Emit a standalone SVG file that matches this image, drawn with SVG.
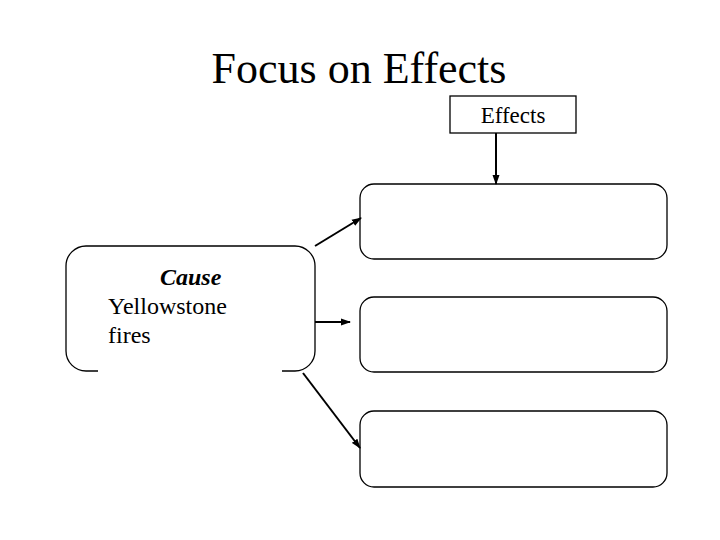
<svg xmlns="http://www.w3.org/2000/svg" width="720" height="540" viewBox="0 0 720 540">
<style>
text{font-family:"Liberation Serif","Times New Roman",serif;fill:#000}
.box{fill:#fff;stroke:#000;stroke-width:1.3}
.conn{stroke:#000;stroke-width:2;fill:none}
</style>
<defs>
<marker id="ah" markerWidth="10" markerHeight="8" refX="9" refY="4" orient="auto" markerUnits="userSpaceOnUse">
<path d="M0,0.5 L10,4 L0,7.5 Z" fill="#000"/>
</marker>
</defs>
<rect width="720" height="540" fill="#fff"/>
<text x="359" y="83" font-size="44" text-anchor="middle">Focus on Effects</text>
<g id="effects-label">
<rect class="box" x="450" y="96" width="126" height="37"/>
<text x="513" y="123" font-size="23" text-anchor="middle">Effects</text>
</g>
<g id="cause">
<path class="box" d="M98,371 L86,371 A20,20 0 0 1 66,351 L66,266 A20,20 0 0 1 86,246 L295,246 A20,20 0 0 1 315,266 L315,351 A20,20 0 0 1 295,371 L282,371" fill="none"/>
<text font-size="24"><tspan x="160" y="285" font-weight="bold" font-style="italic">Cause</tspan><tspan x="108" y="314">Yellowstone</tspan><tspan x="108" y="343">fires</tspan></text>
</g>
<g id="effect1"><rect class="box" x="360" y="184" width="307" height="75" rx="14"/></g>
<g id="effect2"><rect class="box" x="360" y="297" width="307" height="75" rx="14"/></g>
<g id="effect3"><rect class="box" x="360" y="411" width="307" height="76" rx="14"/></g>
<g id="connectors">
<line class="conn" x1="496" y1="133" x2="496" y2="184" marker-end="url(#ah)"/>
<line class="conn" x1="315" y1="246" x2="361" y2="218" marker-end="url(#ah)"/>
<line class="conn" x1="315" y1="322" x2="350" y2="322" marker-end="url(#ah)"/>
<line class="conn" x1="303" y1="373" x2="360" y2="448" marker-end="url(#ah)"/>
</g>
</svg>
